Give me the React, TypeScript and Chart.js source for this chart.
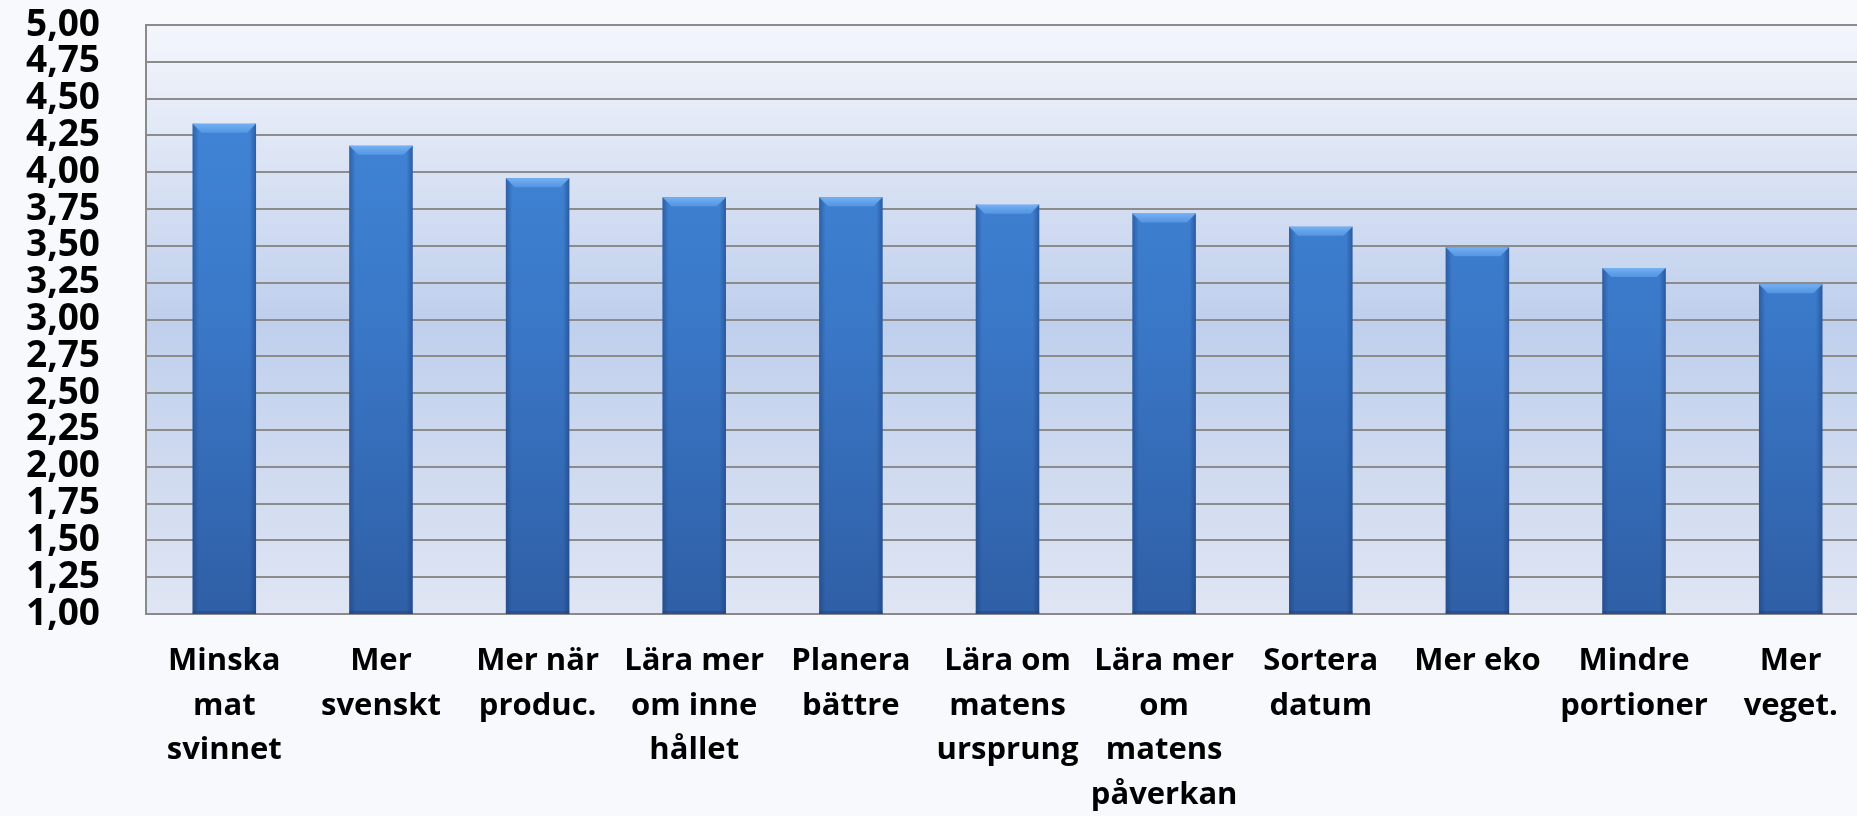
import React, { useEffect, useRef } from "react";
import { Chart, registerables } from "chart.js";

Chart.register(...registerables);

const categories: string[][] = [
  ["Minska", "mat", "svinnet"],
  ["Mer", "svenskt"],
  ["Mer när", "produc."],
  ["Lära mer", "om inne", "hållet"],
  ["Planera", "bättre"],
  ["Lära om", "matens", "ursprung"],
  ["Lära mer", "om", "matens", "påverkan"],
  ["Sortera", "datum"],
  ["Mer eko"],
  ["Mindre", "portioner"],
  ["Mer", "veget."],
];

const values: number[] = [4.33, 4.18, 3.96, 3.83, 3.83, 3.78, 3.72, 3.63, 3.49, 3.35, 3.24];

const yTickLabels: string[] = [
  "1,00", "1,25", "1,50", "1,75", "2,00", "2,25", "2,50", "2,75", "3,00",
  "3,25", "3,50", "3,75", "4,00", "4,25", "4,50", "4,75", "5,00",
];

const backgroundPlugin = {
  id: "bgPlugin",
  beforeDraw(chart: any) {
    const { ctx, chartArea, width, height } = chart;
    ctx.save();
    ctx.fillStyle = "#F7F9FC";
    ctx.fillRect(0, 0, width, height);
    if (chartArea) {
      const g = ctx.createLinearGradient(0, chartArea.top, 0, chartArea.bottom);
      g.addColorStop(0, "#F4F6FC");
      g.addColorStop(0.5, "#BFCFEC");
      g.addColorStop(1, "#DFE5F3");
      ctx.fillStyle = g;
      ctx.fillRect(chartArea.left, chartArea.top, chartArea.right - chartArea.left, chartArea.bottom - chartArea.top);
    }
    ctx.restore();
  },
};

const bevelPlugin = {
  id: "bevelPlugin",
  afterDatasetsDraw(chart: any) {
    const { ctx, chartArea } = chart;
    const meta = chart.getDatasetMeta(0);
    ctx.save();
    meta.data.forEach((bar: any) => {
      const p = bar.getProps(["x", "y", "base", "width"], true);
      const left = p.x - p.width / 2;
      const right = p.x + p.width / 2;
      const top = p.y;
      const bottom = Math.min(p.base, chartArea.bottom);
      const edge = Math.max(4, p.width * 0.1);
      const bev = 9;
      let g = ctx.createLinearGradient(left, 0, left + edge, 0);
      g.addColorStop(0, "rgba(25,55,110,0.45)");
      g.addColorStop(1, "rgba(25,55,110,0)");
      ctx.fillStyle = g;
      ctx.fillRect(left, top, edge, bottom - top);
      g = ctx.createLinearGradient(right - edge, 0, right, 0);
      g.addColorStop(0, "rgba(25,55,110,0)");
      g.addColorStop(1, "rgba(25,55,110,0.5)");
      ctx.fillStyle = g;
      ctx.fillRect(right - edge, top, edge, bottom - top);
      ctx.beginPath();
      ctx.moveTo(left, top);
      ctx.lineTo(right, top);
      ctx.lineTo(right - bev, top + bev);
      ctx.lineTo(left + bev, top + bev);
      ctx.closePath();
      g = ctx.createLinearGradient(0, top, 0, top + bev);
      g.addColorStop(0, "rgba(120,180,245,0.95)");
      g.addColorStop(1, "rgba(95,160,235,0.7)");
      ctx.fillStyle = g;
      ctx.fill();
      ctx.fillStyle = "rgba(30,60,110,0.35)";
      ctx.fillRect(left, bottom - 3, right - left, 3);
    });
    ctx.restore();
  },
};

export default function App() {
  const canvasRef = useRef<HTMLCanvasElement | null>(null);

  useEffect(() => {
    if (!canvasRef.current) return;
    const chart = new Chart(canvasRef.current, {
      type: "bar",
      data: {
        labels: categories,
        datasets: [
          {
            data: values,
            backgroundColor: (c: any) => {
              const area = c.chart.chartArea;
              if (!area) return "#3F80D4";
              const g = c.chart.ctx.createLinearGradient(0, area.top, 0, area.bottom);
              g.addColorStop(0, "#4389DC");
              g.addColorStop(0.5, "#3A78C8");
              g.addColorStop(1, "#2F5FA6");
              return g;
            },
            borderWidth: 0,
            barPercentage: 0.405,
            categoryPercentage: 1,
          },
        ],
      },
      options: {
        animation: false,
        responsive: true,
        maintainAspectRatio: false,
        layout: { padding: { top: 25, right: 3, left: 0, bottom: 0 } },
        plugins: {
          legend: { display: false },
          tooltip: { enabled: false },
        },
        scales: {
          x: {
            afterFit: (s: any) => {
              s.height = 202;
              s.paddingTop = 0;
              s.paddingBottom = 0;
            },
            grid: { display: false, drawTicks: false },
            border: { display: true, color: "#8A8A8A", width: 2 },
            ticks: {
              autoSkip: false,
              maxRotation: 0,
              minRotation: 0,
              padding: 25,
              color: "#000000",
              font: { family: "'Open Sans'", weight: "bold", size: 31, lineHeight: 1.44 },
            },
          },
          y: {
            min: 1,
            max: 5,
            afterFit: (s: any) => {
              s.width = 146;
              s.paddingTop = 0;
              s.paddingBottom = 0;
            },
            grid: { color: "#8C8C8C", lineWidth: 2, drawTicks: false },
            border: { display: true, color: "#8A8A8A", width: 2 },
            ticks: {
              stepSize: 0.25,
              autoSkip: false,
              padding: 46,
              color: "#000000",
              font: { family: "'Open Sans'", weight: "bold", size: 37, lineHeight: 1 },
              callback: (_v: any, i: number) => yTickLabels[i],
            },
          },
        },
      },
      plugins: [backgroundPlugin, bevelPlugin],
    });
    return () => chart.destroy();
  }, []);

  return (
    <div style={{ position: "absolute", left: 0, top: 0, width: 1857, height: 816, overflow: "hidden", background: "#F7F9FC" }}>
      <div style={{ position: "relative", width: 1872, height: 816 }}>
        <canvas ref={canvasRef} />
      </div>
    </div>
  );
}
